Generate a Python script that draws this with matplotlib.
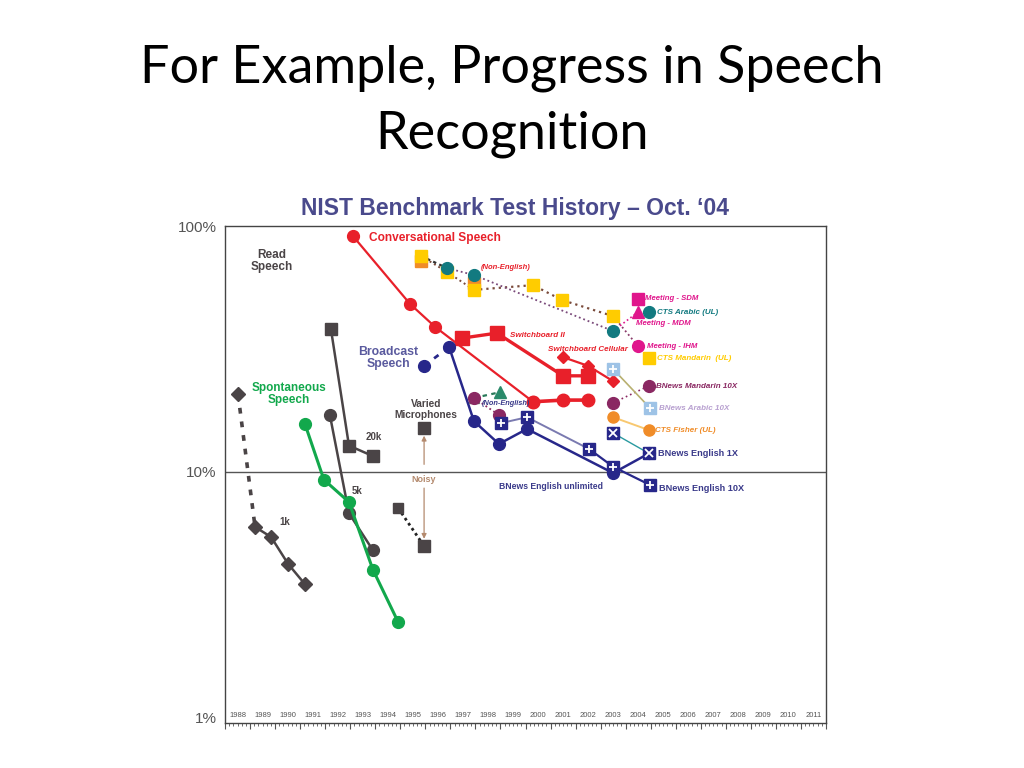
import numpy as np
import matplotlib
matplotlib.use("Agg")
import matplotlib.pyplot as plt
from matplotlib import font_manager as fm
from matplotlib.transforms import blended_transform_factory

# ---------------- data (year, word error rate %) ----------------
read_dash_x = [1988.52, 1989.20]
read_dash_y = [20.7, 5.98]
rm1k_x = [1989.20, 1989.84, 1990.52, 1991.19]
rm1k_y = [5.98, 5.44, 4.23, 3.50]
rm20k_x = [1992.23, 1992.95, 1993.91]
rm20k_y = [38.1, 12.8, 11.6]
rm5k_x = [1992.19, 1992.95, 1993.91]
rm5k_y = [17.0, 6.8, 4.8]
spont_x = [1991.19, 1991.95, 1992.95, 1993.91, 1994.91]
spont_y = [15.7, 9.3, 7.55, 4.0, 2.46]
varied_x = [1995.95, 1995.95]
varied_y = [15.1, 5.0]
noisy_dot_x = [1994.91, 1995.95]
noisy_dot_y = [7.14, 5.0]

conv_x = [1993.11, 1995.39, 1996.39, 2000.30, 2001.50, 2002.50]
conv_y = [91.0, 48.2, 38.9, 19.3, 19.6, 19.6]
swb2_x = [1997.46, 1998.86, 2001.50, 2002.50]
swb2_y = [35.0, 36.7, 24.6, 24.6]
swbcell_x = [2001.50, 2002.50, 2003.50]
swbcell_y = [29.3, 27.0, 23.4]

cts_sq_x = [1995.83, 1996.87, 1997.94, 2000.30, 2001.46, 2003.50]
cts_sq_y = [75.5, 65.0, 55.0, 57.5, 50.0, 43.0]
cts_orange_x = [1995.83, 1997.94]
cts_orange_y = [72.0, 58.6]
cts_circ_x = [1996.87, 1997.94, 2003.50]
cts_circ_y = [67.4, 63.2, 37.4]
meet_sdm = (2004.49, 50.5)
meet_mdm = (2004.49, 44.7)
cts_arabic = (2004.93, 44.7)
meet_ihm = (2004.49, 32.5)
cts_mandarin = (2004.93, 29.1)

bn_dash_x = [1995.95, 1996.95]
bn_dash_y = [27.0, 32.2]
bn_x = [1996.95, 1997.94, 1998.94, 2000.06, 2003.50, 2004.93]
bn_y = [32.2, 16.1, 13.0, 14.96, 9.9, 11.9]
bn10_x = [1999.02, 2000.06, 2002.54, 2003.50, 2004.97]
bn10_y = [15.8, 16.7, 12.4, 10.5, 8.86]
bnne_tri_x = [1997.94, 1998.98]
bnne_tri_y = [20.0, 21.1]
bnne_circ_x = [1997.94, 1998.94]
bnne_circ_y = [20.0, 17.05]
bnman_x = [2003.50, 2004.93]
bnman_y = [19.1, 22.4]
bnarab_x = [2003.50, 2004.97]
bnarab_y = [26.2, 18.2]
fisher_x = [2003.50, 2004.93]
fisher_y = [16.7, 14.8]
bn1x_x = [2003.50, 2004.93]
bn1x_y = [14.4, 11.9]

years = list(range(1988, 2012))
ytick_vals = [1, 10, 100]
ytick_labels = ["1%", "10%", "100%"]

# ---------------- colours ----------------
RED = "#e8202a"
NAVY = "#27278a"
GREEN = "#12a84c"
DGRAY = "#4a4446"
BROWN = "#b48a6e"
TEAL = "#127a80"
YELLOW = "#ffcc00"
ORANGE = "#f08c28"
MAGENTA = "#e0168c"
PURPLE = "#8a2862"
LBLUE = "#9ec3e6"
DOTC = "#7a4a3a"

avail = {f.name for f in fm.fontManager.ttflist}
sans = ["Liberation Sans", "DejaVu Sans"]
narrow = "Liberation Sans Narrow" if "Liberation Sans Narrow" in avail else None
title_font = ["Lato", "DejaVu Sans"]

fig = plt.figure(figsize=(10.24, 7.68), dpi=100)
fig.patch.set_facecolor("white")

fig.text(0.5, 1 - 82 / 768, "For Example, Progress in Speech", ha="center",
         va="baseline", fontsize=37.5, family=title_font, color="black")
fig.text(0.5, 1 - 149 / 768, "Recognition", ha="center", va="baseline",
         fontsize=37.5, family=title_font, color="black")
if narrow:
    fig.text(515 / 1024, 1 - 208 / 768, "NIST Benchmark Test History \u2013 Oct. \u201804",
             ha="center", va="center", fontsize=19.5, family=[narrow, "DejaVu Sans"],
             weight="bold", color="#4a4a8c")
else:
    fig.text(515 / 1024, 1 - 208 / 768, "NIST Benchmark Test History \u2013 Oct. \u201804",
             ha="center", va="center", fontsize=16.5, family=sans,
             weight="bold", color="#4a4a8c")

ax = fig.add_axes([225 / 1024, 1 - 723 / 768, 601 / 1024, 497 / 768])
ax.set_yscale("log")
ax.set_xlim(1988, 2012)
ax.set_ylim(0.954, 100)
for s in ax.spines.values():
    s.set_color("#444444")
    s.set_linewidth(1.0)

ax.set_yticks(ytick_vals)
ax.set_yticklabels(ytick_labels, family=sans, fontsize=11, color="#555555")
ax.yaxis.set_minor_locator(matplotlib.ticker.NullLocator())
ax.tick_params(axis="y", length=0, pad=6)

ax.set_xticks(years + [2012])
ax.set_xticklabels([])
ax.set_xticks(np.arange(1988, 2012, 1 / 6), minor=True)
ax.tick_params(axis="x", which="major", direction="out", length=4, color="#555555", width=0.8)
ax.tick_params(axis="x", which="minor", direction="out", length=2, color="#555555", width=0.6)
trans = blended_transform_factory(ax.transData, ax.transAxes)
for yr in years:
    ax.text(yr + 0.5, 0.008, str(yr), transform=trans, ha="center", va="bottom",
            fontsize=5.5, color="#555555", family=sans)

ax.axhline(10, color="#555555", lw=1.0, zorder=1)

ms_c = 8.5
ms_s = 8.5
ms_d = 8

# ---- Read speech ----
ax.plot(read_dash_x, read_dash_y, color=DGRAY, lw=2.6, ls=(0, (1.6, 2.2)), zorder=2)
ax.plot(read_dash_x[:1], read_dash_y[:1], "D", color=DGRAY, ms=ms_d - 1, zorder=3)
ax.plot(rm1k_x, rm1k_y, "-D", color=DGRAY, lw=1.8, ms=ms_d - 1, zorder=3)
ax.plot(rm20k_x, rm20k_y, "-s", color=DGRAY, lw=1.8, ms=ms_s, zorder=3)
ax.plot(rm5k_x, rm5k_y, "-o", color=DGRAY, lw=1.8, ms=ms_c, zorder=3)
ax.plot(spont_x, spont_y, "-o", color=GREEN, lw=2.2, ms=ms_c, zorder=4)
ax.plot(noisy_dot_x, noisy_dot_y, color="#222222", lw=2.0, ls=(0, (1, 1.2)), zorder=2)
ax.plot(noisy_dot_x[:1], noisy_dot_y[:1], "s", color=DGRAY, ms=ms_s - 1, zorder=3)
ax.plot(varied_x, varied_y, "s", color=DGRAY, ms=ms_s, ls="none", zorder=3)
ax.annotate("Noisy", xy=(varied_x[0], varied_y[0] * 0.93), xytext=(varied_x[0], 9.28),
            ha="center", va="center", fontsize=6.5, weight="bold", color=BROWN, family=sans,
            arrowprops=dict(arrowstyle="-|>", color=BROWN, lw=0.9, mutation_scale=7,
                            shrinkA=6, shrinkB=0))
ax.annotate("", xy=(varied_x[1], varied_y[1] * 1.07), xytext=(varied_x[0], 8.6),
            arrowprops=dict(arrowstyle="-|>", color=BROWN, lw=0.9, mutation_scale=7,
                            shrinkA=0, shrinkB=0))

# ---- Conversational speech ----
ax.plot(conv_x[:4], conv_y[:4], "-o", color=RED, lw=1.6, ms=ms_c, zorder=4)
ax.plot(conv_x[3:], conv_y[3:], "-o", color=RED, lw=2.6, ms=ms_c + 0.5, zorder=4)
ax.plot(swb2_x, swb2_y, "-s", color=RED, lw=2.4, ms=ms_s + 1, zorder=4)
ax.plot(swbcell_x, swbcell_y, "-D", color=RED, lw=1.6, ms=ms_d - 1.5, zorder=4)

# ---- CTS non-English / meetings ----
ax.plot(cts_sq_x[:3], cts_sq_y[:3], color=DOTC, lw=1.4, ls=(0, (1, 1.6)), zorder=2)
ax.plot([cts_sq_x[0], cts_circ_x[0]], [cts_sq_y[0], cts_circ_y[0]], color="#333333", lw=1.6,
        ls=(0, (1.5, 1.5)), zorder=2)
ax.plot(cts_sq_x[2:], cts_sq_y[2:], color=DOTC, lw=1.6, ls=(0, (1, 1.8)), zorder=2)
ax.plot(cts_circ_x, cts_circ_y, color="#7a4a7a", lw=1.3, ls=(0, (1, 1.6)), zorder=2)
ax.plot([cts_sq_x[-1], meet_ihm[0]], [cts_sq_y[-1], meet_ihm[1]], color="#8a3a6a", lw=1.3,
        ls=(0, (1, 1.6)), zorder=2)
ax.plot([cts_circ_x[-1], meet_mdm[0]], [cts_circ_y[-1], meet_mdm[1]], color=MAGENTA, lw=1.2,
        ls=(0, (1, 1.6)), zorder=2)
ax.plot(cts_orange_x, cts_orange_y, "s", color=ORANGE, ms=ms_s, ls="none", zorder=3)
ax.plot(cts_sq_x, cts_sq_y, "s", color=YELLOW, ms=ms_s, ls="none", zorder=3)
ax.plot(cts_circ_x, cts_circ_y, "o", color=TEAL, ms=ms_c, ls="none", zorder=4)
ax.plot(*meet_sdm, "s", color=MAGENTA, ms=ms_s, zorder=4)
ax.plot(*meet_mdm, "^", color=MAGENTA, ms=ms_s, zorder=4)
ax.plot(*cts_arabic, "o", color=TEAL, ms=ms_c, zorder=4)
ax.plot(*meet_ihm, "o", color=MAGENTA, ms=ms_c, zorder=4)
ax.plot(*cts_mandarin, "s", color=YELLOW, ms=ms_s, zorder=4)

# ---- Broadcast news ----
ax.plot(bn_dash_x, bn_dash_y, color=NAVY, lw=2.0, ls=(0, (2, 2.5)), zorder=3)
ax.plot(bn_dash_x[:1], bn_dash_y[:1], "o", color=NAVY, ms=ms_c, zorder=4)
ax.plot(bn_x, bn_y, "-o", color=NAVY, lw=1.8, ms=ms_c, zorder=4)
ax.plot(bn10_x[:3], bn10_y[:3], "-", color="#7a7ab0", lw=1.4, zorder=3)
ax.plot(bn10_x[2:], bn10_y[2:], "-", color=NAVY, lw=1.6, zorder=3)
ax.plot(bnne_tri_x, bnne_tri_y, color="#2a7a5a", lw=1.6, ls=(0, (2, 2)), zorder=3)
ax.plot(bnne_circ_x, bnne_circ_y, color=PURPLE, lw=1.3, ls=(0, (1, 1.6)), zorder=3)
ax.plot(bnne_tri_x[:1], bnne_tri_y[:1], "^", color="#6a6a6a", ms=ms_s - 1, zorder=4)
ax.plot(bnne_circ_x, bnne_circ_y, "o", color=PURPLE, ms=ms_c, ls="none", zorder=4)
ax.plot(bnne_tri_x[1:], bnne_tri_y[1:], "^", color="#2a8a6a", ms=ms_s, zorder=4)
ax.plot(bn10_x, bn10_y, "s", color=NAVY, ms=ms_s + 0.5, ls="none", zorder=5)
ax.plot(bn10_x, bn10_y, "+", color="white", ms=6, mew=1.3, ls="none", zorder=6)

ax.plot(bnman_x, bnman_y, color=PURPLE, lw=1.2, ls=(0, (1, 1.8)), zorder=3)
ax.plot(bnman_x, bnman_y, "o", color=PURPLE, ms=ms_c, ls="none", zorder=4)
ax.plot(bnarab_x, bnarab_y, "-", color="#b8b070", lw=1.2, zorder=3)
ax.plot(bnarab_x, bnarab_y, "s", color=LBLUE, ms=ms_s + 0.5, ls="none", zorder=4)
ax.plot(bnarab_x, bnarab_y, "+", color="white", ms=6, mew=1.3, ls="none", zorder=5)
ax.plot(fisher_x, fisher_y, "-", color="#f8c870", lw=1.4, zorder=3)
ax.plot(fisher_x, fisher_y, "o", color=ORANGE, ms=ms_c - 0.5, ls="none", zorder=4)
ax.plot(bn1x_x, bn1x_y, "-", color="#2a9aa0", lw=1.0, zorder=3)
ax.plot(bn1x_x, bn1x_y, "s", color=NAVY, ms=ms_s + 0.5, ls="none", zorder=5)
ax.plot(bn1x_x, bn1x_y, "x", color="white", ms=6, mew=1.3, ls="none", zorder=6)

# ---------------- labels ----------------
def lab(x, y, s, color, size, ha="left", style="normal", weight="bold", **kw):
    ax.text(x, y, s, color=color, fontsize=size, ha=ha, va="center", style=style,
            weight=weight, family=sans, zorder=7, **kw)

lab(1989.88, 72.1, "Read\nSpeech", DGRAY, 8.5, ha="center", linespacing=1.0)
lab(1993.75, 89.4, "Conversational Speech", RED, 8.6)
lab(1998.22, 68.1, "(Non-English)", RED, 5.5, style="italic")
lab(1999.38, 36.0, "Switchboard II", RED, 5.8, style="italic")
lab(2000.90, 31.6, "Switchboard Cellular", RED, 5.8, style="italic")
lab(1994.51, 29.0, "Broadcast\nSpeech", "#5a5a9e", 8.8, ha="center", linespacing=1.0)
lab(1990.56, 20.7, "Spontaneous\nSpeech", GREEN, 8.5, ha="center", linespacing=1.0)
lab(1996.03, 18.0, "Varied\nMicrophones", DGRAY, 7.3, ha="center", linespacing=1.1)
lab(1993.63, 13.9, "20k", DGRAY, 7)
lab(1993.07, 8.38, "5k", DGRAY, 7)
lab(1990.16, 6.27, "1k", DGRAY, 7)
lab(1998.26, 18.9, "(Non-English)", "#3a3a8a", 5.3, style="italic")
lab(2001.02, 8.69, "BNews English unlimited", "#3a3a8a", 6.2, ha="center")
lab(2004.77, 50.5, "Meeting - SDM", MAGENTA, 5.6, style="italic")
lab(2005.25, 44.3, "CTS Arabic (UL)", TEAL, 5.8, style="italic")
lab(2004.41, 40.0, "Meeting - MDM", MAGENTA, 5.6, style="italic")
lab(2004.85, 32.5, "Meeting - IHM", MAGENTA, 5.6, style="italic")
lab(2005.25, 28.8, "CTS Mandarin  (UL)", YELLOW, 5.8, style="italic")
lab(2005.21, 22.2, "BNews Mandarin 10X", PURPLE, 5.8, style="italic")
lab(2005.33, 18.2, "BNews Arabic 10X", "#b8a0d0", 5.8, style="italic")
lab(2005.17, 14.7, "CTS Fisher (UL)", ORANGE, 5.8, style="italic")
lab(2005.29, 11.9, "BNews English 1X", "#3a3a8a", 6.6)
lab(2005.33, 8.53, "BNews English 10X", "#3a3a8a", 6.6)

fig.savefig("out.png", dpi=100, facecolor="white")
